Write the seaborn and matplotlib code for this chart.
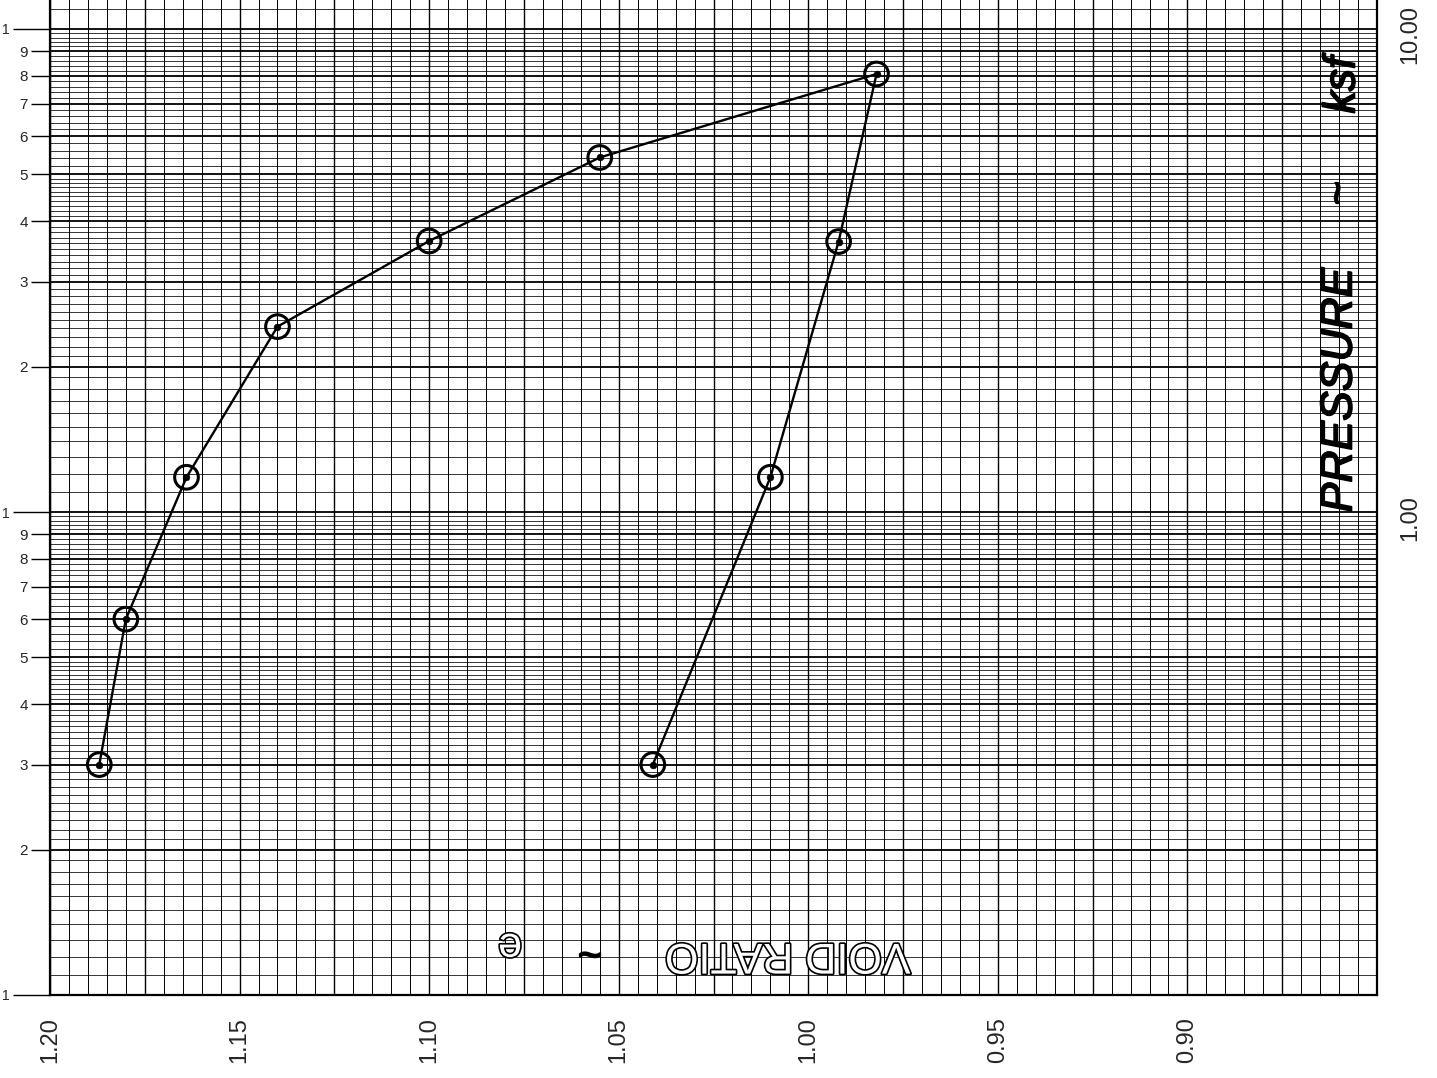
import numpy as np
import pandas as pd
import matplotlib
matplotlib.use("Agg")
import matplotlib.pyplot as plt
import matplotlib.ticker as mticker
import matplotlib.patheffects as pe
from matplotlib.transforms import ScaledTranslation
import seaborn as sns

# Consolidation test: void ratio e against pressure (ksf)
load_e = [1.187, 1.180, 1.164, 1.140, 1.100, 1.055, 0.982]
load_p = [0.30, 0.60, 1.18, 2.42, 3.64, 5.42, 8.07]

unload_e = [0.982, 0.992, 1.010, 1.041]
unload_p = [8.07, 3.63, 1.18, 0.30]

e_ticks = [1.20, 1.15, 1.10, 1.05, 1.00, 0.95, 0.90]
e_tick_labels = ["1.20", "1.15", "1.10", "1.05", "1.00", "0.95", "0.90"]
p_right_ticks = [1.0, 10.0]
p_right_labels = ["1.00", "10.00"]

sns.set_style("white")
plt.rcParams["font.family"] = ["Liberation Sans", "DejaVu Sans"]

W, H = 1437, 1078
fig = plt.figure(figsize=(W / 100, H / 100), dpi=100)
ax = fig.add_axes([50 / W, (H - 995) / H, 1327 / W, (995 + 19) / H])
ax.set_yscale("log")
ax.set_xlim(1.20, 0.85)
ax.set_ylim(0.1, 10 ** (-1 + 1014 / 483))

# semi-log graph paper
for i in range(71):
    e = 0.85 + i * 0.005
    heavy = i % 5 == 0
    ax.axvline(e, color="black", lw=1.0 if heavy else 0.7, zorder=0)

for dec in [0.1, 1.0, 10.0]:
    steps = list(np.arange(1.0, 2.0, 0.1)) + list(np.arange(2.0, 5.0, 0.1)) + list(np.arange(5.0, 10.0, 0.2))
    for v in steps:
        heavy = abs(v - round(v)) < 1e-6
        ax.axhline(v * dec, color="black", lw=1.3 if heavy else 0.55, zorder=0)

df_load = pd.DataFrame({"e": load_e, "p": load_p})
df_unload = pd.DataFrame({"e": unload_e, "p": unload_p})

for df in (df_load, df_unload):
    sns.lineplot(data=df, x="e", y="p", sort=False, estimator=None,
                 color="black", lw=1.7, ax=ax, zorder=3)
df_pts = pd.concat([df_load, df_unload.iloc[1:]], ignore_index=True)
sns.scatterplot(data=df_pts, x="e", y="p", marker="o", s=290,
                facecolor="none", edgecolor="black", linewidth=2.2, ax=ax, zorder=4)
sns.scatterplot(data=df_pts, x="e", y="p", marker="o", s=24,
                color="black", edgecolor="black", ax=ax, zorder=5)

ax.set_xlabel("")
ax.set_ylabel("")

for side in ["left", "bottom", "right"]:
    ax.spines[side].set_color("black")
    ax.spines[side].set_linewidth(1.6)
ax.spines["top"].set_visible(False)

# left tick labels: decade "1" and 2..9 within each cycle
major_y = [0.1, 1.0, 10.0]
minor_y = [m * d for d in [0.1, 1.0] for m in range(2, 10)]
ax.yaxis.set_major_locator(mticker.FixedLocator(major_y))
ax.yaxis.set_major_formatter(mticker.FixedFormatter(["1"] * len(major_y)))
ax.yaxis.set_minor_locator(mticker.FixedLocator(minor_y))
ax.yaxis.set_minor_formatter(mticker.FixedFormatter([str(m) for d in [0.1, 1.0] for m in range(2, 10)]))
ax.tick_params(axis="y", which="major", length=27, width=1.0, pad=2, labelsize=10, left=True, right=False, color="black")
ax.tick_params(axis="y", which="minor", length=14, width=1.0, pad=2, labelsize=11, left=True, right=False, color="black")

ax.xaxis.set_major_locator(mticker.FixedLocator(e_ticks))
ax.xaxis.set_major_formatter(mticker.FixedFormatter(e_tick_labels))
ax.xaxis.set_minor_locator(mticker.NullLocator())
ax.tick_params(axis="x", which="major", length=0, pad=16, labelsize=17, labelrotation=90)

shift = ScaledTranslation(0, -6 / 100, fig.dpi_scale_trans)
for v, lab in zip(p_right_ticks, p_right_labels):
    ax.text((1410 - 50) / 1327, v, lab, transform=ax.get_yaxis_transform() + shift,
            rotation=90, ha="center", va="center", fontsize=17, clip_on=False)

def fx(px):
    return px / W

def fy(py):
    return 1 - py / H

# axis titles written on the paper
thick = [pe.withStroke(linewidth=1.2, foreground="black")]
fig.text(fx(1340), fy(390), "PRESSURE", rotation=90, ha="center", va="center",
         fontsize=32, style="italic", color="black", path_effects=thick)
fig.text(fx(1340), fy(193), "~", rotation=90, ha="center", va="center",
         fontsize=30, color="black", path_effects=thick)
fig.text(fx(1343), fy(85), "ksf", rotation=90, ha="center", va="center",
         fontsize=32, style="italic", color="black", path_effects=thick)

outline = [pe.withStroke(linewidth=2.4, foreground="black")]
fig.text(fx(788), fy(955), "VOID RATIO", rotation=180, ha="center", va="center",
         fontsize=31, color="white", path_effects=outline)
fig.text(fx(590), fy(952), "~", rotation=180, ha="center", va="center",
         fontsize=30, color="black", path_effects=thick)
fig.text(fx(510), fy(945), "e", rotation=180, ha="center", va="center",
         fontsize=31, color="white", path_effects=outline)

fig.savefig("out.png", dpi=100, facecolor="white")
